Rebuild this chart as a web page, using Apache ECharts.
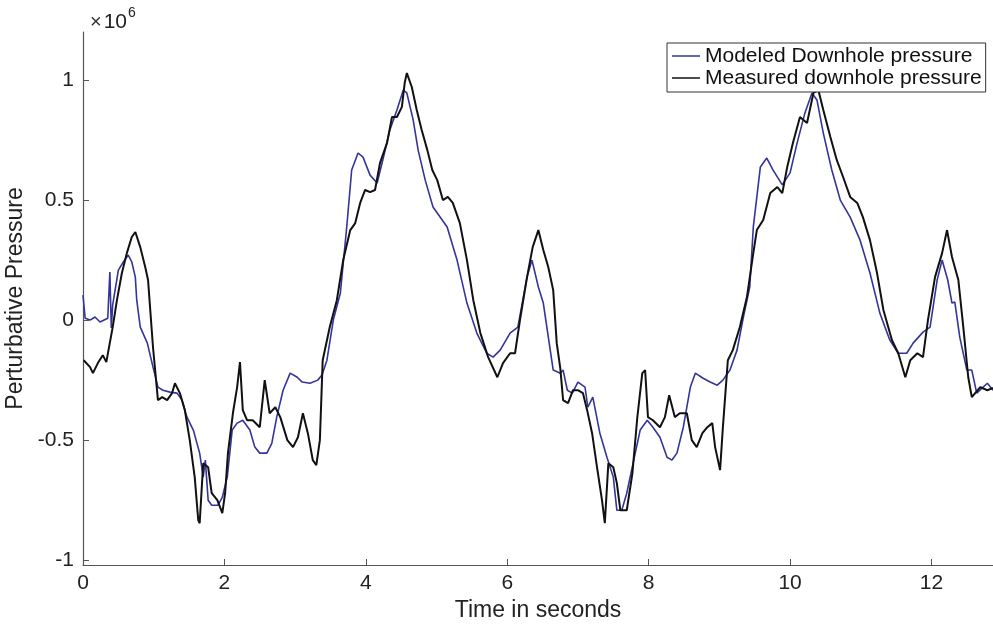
<!DOCTYPE html>
<html>
<head>
<meta charset="utf-8">
<script src="https://cdn.jsdelivr.net/npm/echarts@6/dist/echarts.min.js"></script>
<style>
html,body{margin:0;padding:0;background:#fff;}
#chart{width:993px;height:625px;}
</style>
</head>
<body>
<div id="chart"></div>
<script>
// Time in seconds, pressure in units of 1e6
var modeledT = [0,0.03,0.10,0.17,0.24,0.35,0.38,0.40,0.42,0.50,0.57,0.64,0.69,0.74,0.76,0.81,0.91,0.99,1.06,1.13,1.23,1.33,1.40,1.47,1.56,1.65,1.70,1.73,1.77,1.82,1.91,1.97,2.04,2.11,2.18,2.26,2.36,2.43,2.50,2.60,2.67,2.74,2.83,2.93,3.03,3.10,3.21,3.32,3.38,3.45,3.54,3.64,3.73,3.80,3.89,3.96,4.06,4.16,4.24,4.34,4.44,4.53,4.58,4.67,4.74,4.84,4.95,5.15,5.29,5.43,5.57,5.71,5.80,5.90,6.04,6.15,6.28,6.35,6.44,6.51,6.56,6.65,6.75,6.79,6.85,6.92,7.00,7.10,7.14,7.21,7.31,7.41,7.50,7.55,7.62,7.69,7.78,7.88,7.98,8.06,8.16,8.26,8.33,8.40,8.49,8.59,8.66,8.77,8.87,8.97,9.05,9.15,9.25,9.34,9.43,9.48,9.58,9.67,9.76,9.89,10.00,10.10,10.21,10.31,10.38,10.47,10.59,10.71,10.85,10.99,11.13,11.27,11.41,11.53,11.65,11.74,11.88,11.98,12.08,12.15,12.23,12.29,12.33,12.40,12.50,12.57,12.64,12.79,12.87];
var modeledP = [0.104,0.008,0.0,0.013,-0.008,0.008,0.2,-0.033,0.063,0.208,0.242,0.271,0.242,0.179,0.083,-0.029,-0.096,-0.196,-0.279,-0.292,-0.3,-0.304,-0.333,-0.404,-0.458,-0.554,-0.654,-0.583,-0.75,-0.771,-0.771,-0.738,-0.654,-0.458,-0.429,-0.417,-0.458,-0.529,-0.554,-0.554,-0.513,-0.404,-0.292,-0.221,-0.238,-0.258,-0.263,-0.25,-0.229,-0.167,0.0,0.113,0.388,0.625,0.696,0.679,0.604,0.571,0.667,0.792,0.875,0.958,0.946,0.833,0.708,0.583,0.471,0.388,0.25,0.071,-0.054,-0.138,-0.154,-0.125,-0.054,-0.029,0.179,0.25,0.138,0.071,-0.029,-0.208,-0.221,-0.208,-0.292,-0.304,-0.258,-0.279,-0.363,-0.321,-0.471,-0.571,-0.654,-0.792,-0.792,-0.721,-0.596,-0.458,-0.417,-0.446,-0.488,-0.571,-0.583,-0.554,-0.446,-0.279,-0.221,-0.242,-0.258,-0.271,-0.25,-0.208,-0.125,0.013,0.138,0.388,0.638,0.675,0.625,0.563,0.613,0.738,0.863,0.946,0.917,0.779,0.625,0.5,0.429,0.333,0.196,0.029,-0.083,-0.138,-0.138,-0.096,-0.05,-0.029,0.167,0.25,0.167,0.071,0.075,-0.071,-0.208,-0.208,-0.304,-0.263,-0.292];

var measuredT = [0.01,0.10,0.14,0.21,0.28,0.33,0.35,0.42,0.48,0.55,0.62,0.69,0.74,0.81,0.88,0.92,0.99,1.06,1.12,1.19,1.26,1.30,1.37,1.44,1.51,1.58,1.63,1.65,1.70,1.77,1.82,1.90,1.97,2.01,2.05,2.12,2.18,2.22,2.26,2.32,2.40,2.50,2.57,2.64,2.72,2.79,2.89,2.97,3.04,3.11,3.18,3.25,3.30,3.35,3.39,3.49,3.59,3.68,3.78,3.85,3.92,3.99,4.06,4.13,4.20,4.30,4.37,4.44,4.51,4.55,4.58,4.65,4.72,4.79,4.87,4.94,5.01,5.09,5.16,5.23,5.33,5.43,5.52,5.62,5.73,5.86,5.94,6.04,6.11,6.18,6.28,6.36,6.44,6.51,6.58,6.65,6.70,6.75,6.79,6.86,6.93,7.00,7.07,7.13,7.20,7.27,7.34,7.38,7.43,7.50,7.55,7.60,7.69,7.77,7.84,7.91,7.95,7.99,8.06,8.16,8.23,8.29,8.37,8.44,8.54,8.61,8.68,8.76,8.83,8.90,8.94,9.01,9.05,9.12,9.19,9.29,9.39,9.48,9.53,9.62,9.72,9.82,9.89,9.96,10.04,10.14,10.24,10.33,10.40,10.47,10.57,10.66,10.75,10.85,10.95,11.03,11.13,11.23,11.32,11.44,11.53,11.63,11.70,11.80,11.88,11.95,12.05,12.15,12.22,12.29,12.38,12.45,12.52,12.57,12.69,12.79,12.87];
var measuredP = [-0.167,-0.196,-0.221,-0.179,-0.146,-0.175,-0.167,-0.029,0.083,0.196,0.279,0.346,0.367,0.304,0.221,0.167,-0.113,-0.333,-0.321,-0.333,-0.304,-0.263,-0.304,-0.375,-0.5,-0.654,-0.833,-0.846,-0.596,-0.613,-0.721,-0.75,-0.804,-0.721,-0.554,-0.388,-0.279,-0.175,-0.375,-0.417,-0.417,-0.446,-0.25,-0.388,-0.363,-0.404,-0.5,-0.529,-0.488,-0.388,-0.471,-0.583,-0.604,-0.5,-0.167,-0.029,0.083,0.25,0.375,0.404,0.488,0.542,0.533,0.542,0.654,0.738,0.846,0.846,0.888,0.988,1.029,0.971,0.875,0.792,0.708,0.625,0.583,0.5,0.513,0.488,0.404,0.25,0.083,-0.054,-0.154,-0.238,-0.179,-0.138,-0.138,0.0,0.179,0.304,0.375,0.292,0.221,0.125,-0.096,-0.2,-0.333,-0.346,-0.292,-0.292,-0.304,-0.375,-0.471,-0.613,-0.75,-0.846,-0.596,-0.613,-0.679,-0.792,-0.792,-0.638,-0.404,-0.221,-0.208,-0.404,-0.417,-0.446,-0.404,-0.313,-0.404,-0.388,-0.388,-0.5,-0.529,-0.471,-0.446,-0.429,-0.529,-0.625,-0.446,-0.167,-0.125,-0.029,0.096,0.279,0.375,0.417,0.529,0.554,0.529,0.638,0.738,0.846,0.821,0.946,0.958,0.875,0.763,0.667,0.596,0.513,0.488,0.429,0.333,0.196,0.042,-0.083,-0.138,-0.238,-0.167,-0.138,-0.154,0.0,0.179,0.279,0.375,0.263,0.167,-0.029,-0.238,-0.321,-0.279,-0.292,-0.283];

var xTicks = [0,2,4,6,8,10,12];
var yTicks = [-1,-0.5,0,0.5,1];
var seriesNames = ['Modeled Downhole pressure','Measured downhole pressure'];

function pairs(t, p){ var out=[]; for(var i=0;i<t.length;i++){ out.push([t[i],p[i]]); } return out; }

var font = 'Liberation Sans, Arial, Helvetica, sans-serif';
var chart = echarts.init(document.getElementById('chart'), null, {renderer:'canvas'});
chart.setOption({
  animation:false,
  backgroundColor:'#fff',
  grid:{left:83,right:0,top:32,bottom:60,containLabel:false,outerBoundsMode:'none'},
  xAxis:{
    type:'value',min:0,max:12.87,
    name:'Time in seconds',nameLocation:'middle',nameGap:30,
    nameTextStyle:{fontFamily:font,fontSize:23,color:'#222'},
    axisLine:{show:true,onZero:false,lineStyle:{color:'#555',width:1.2}},
    axisTick:{show:true,inside:true,length:6,customValues:xTicks,lineStyle:{color:'#555'}},
    axisLabel:{customValues:xTicks,fontFamily:font,fontSize:21,color:'#222',margin:8,formatter:function(v){return String(v);}},
    splitLine:{show:false}
  },
  yAxis:{
    type:'value',min:-1.02,max:1.2,
    name:'Perturbative Pressure',nameLocation:'middle',nameGap:52,
    nameTextStyle:{fontFamily:font,fontSize:23,color:'#222'},
    axisLine:{show:true,onZero:false,lineStyle:{color:'#555',width:1.2}},
    axisTick:{show:true,inside:true,length:6,customValues:yTicks,lineStyle:{color:'#555'}},
    axisLabel:{customValues:yTicks,fontFamily:font,fontSize:21,color:'#222',margin:9,formatter:function(v){return String(v);}},
    splitLine:{show:false}
  },
  legend:{
    data:seriesNames,
    orient:'vertical',left:667,top:43,
    icon:'rect',itemWidth:28,itemHeight:1.5,itemGap:0,
    padding:[2,4,3,5],
    borderColor:'#333',borderWidth:1,backgroundColor:'#fff',
    textStyle:{fontFamily:font,fontSize:21,color:'#111',lineHeight:22}
  },
  graphic:[{
    type:'text',left:90,top:6,
    style:{
      text:'{a|×}{b|10}{c|6}',
      rich:{
        a:{fontFamily:font,fontSize:20,fill:'#333',padding:[6,2,0,0]},
        b:{fontFamily:font,fontSize:21,fill:'#222',padding:[6,0,0,0]},
        c:{fontFamily:font,fontSize:14,fill:'#222',verticalAlign:'top',padding:[0,0,0,1]}
      }
    }
  }],
  series:[
    {name:seriesNames[0],type:'line',data:pairs(modeledT,modeledP),showSymbol:false,
     lineStyle:{color:'#34349a',width:1.6},itemStyle:{color:'#34349a'}},
    {name:seriesNames[1],type:'line',data:pairs(measuredT,measuredP),showSymbol:false,
     lineStyle:{color:'#111',width:2},itemStyle:{color:'#111'}}
  ]
});
</script>
</body>
</html>
